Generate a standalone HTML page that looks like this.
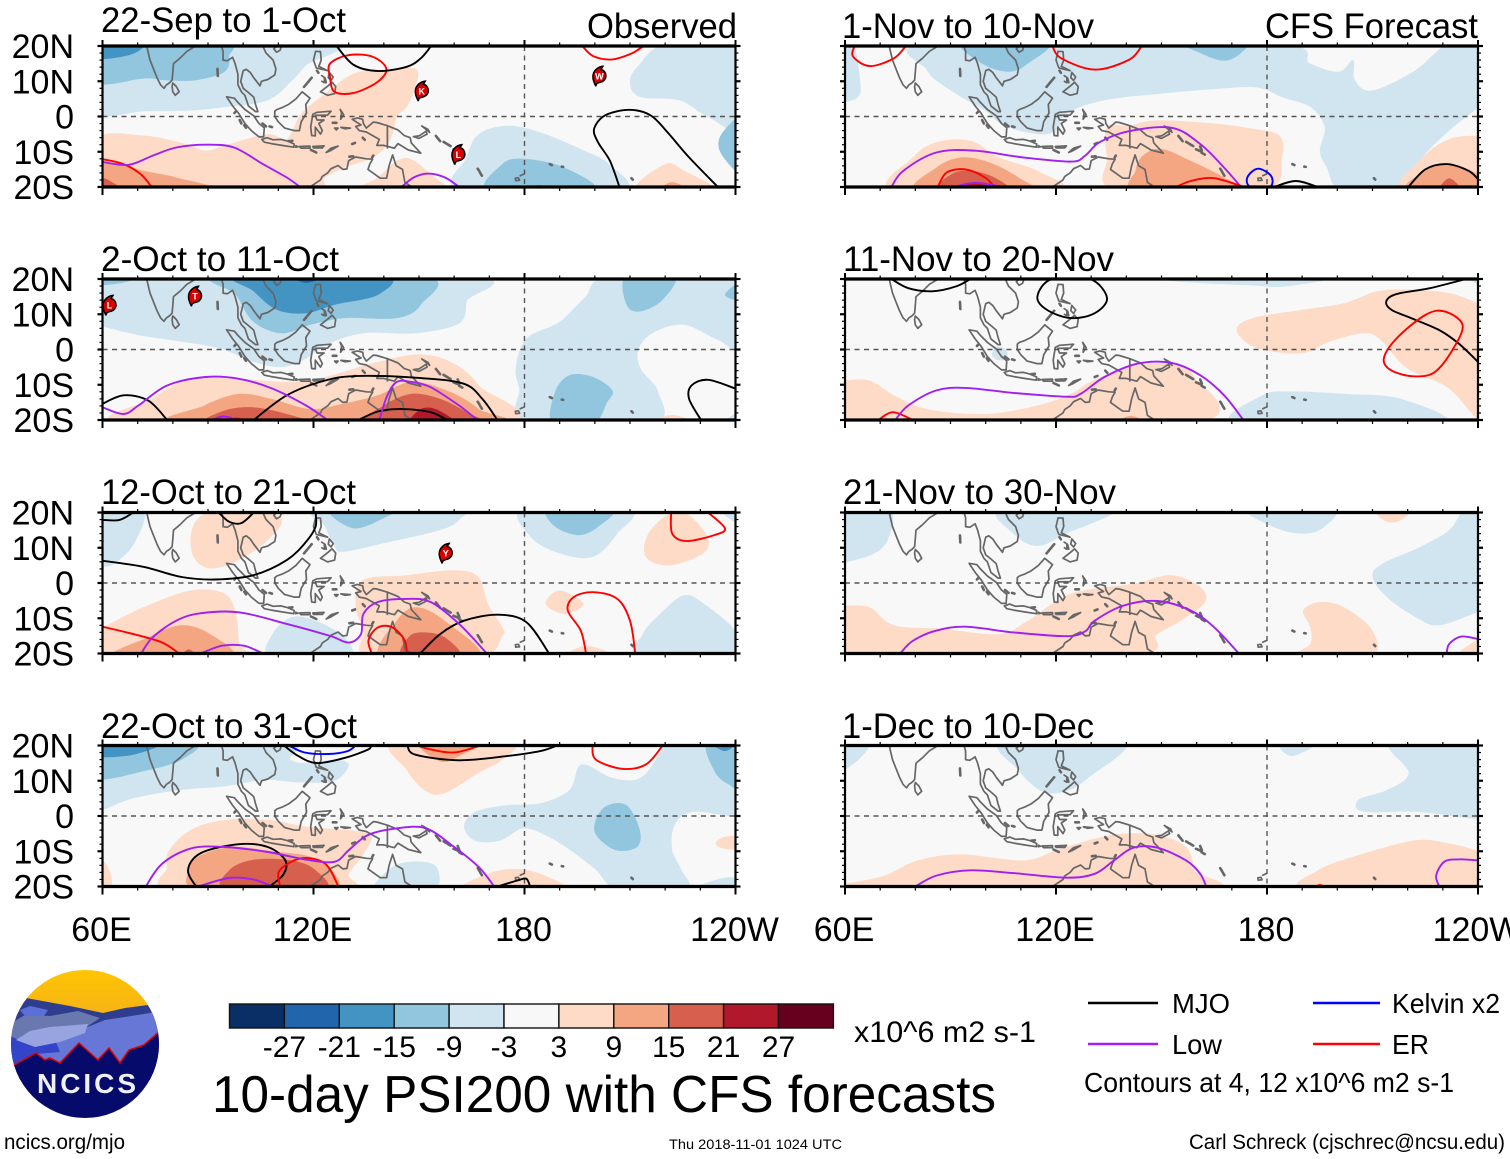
<!DOCTYPE html>
<html lang="en">
<head>
<meta charset="utf-8">
<title>10-day PSI200 with CFS forecasts</title>
<style>
html,body{margin:0;padding:0;background:#fff;width:1510px;height:1159px;overflow:hidden}
svg{display:block}
text{font-family:"Liberation Sans",sans-serif;fill:#000}
</style>
</head>
<body>
<svg id="chart" xmlns="http://www.w3.org/2000/svg" width="1510" height="1159" viewBox="0 0 1510 1159">
  <defs>
    <linearGradient id="logoSky" x1="0" y1="0" x2="0" y2="1">
      <stop offset="0" stop-color="#ffc600"/>
      <stop offset="1" stop-color="#f5b21a"/>
    </linearGradient>
  </defs>
  <rect width="1510" height="1159" fill="#fff"/>
  <g id="panels"></g>

  <text x="101" y="32" font-size="35" textLength="245" lengthAdjust="spacingAndGlyphs">22-Sep to 1-Oct</text>
  <text x="587" y="38" font-size="35" textLength="150" lengthAdjust="spacingAndGlyphs">Observed</text>
  <text x="842" y="38" font-size="35" textLength="252" lengthAdjust="spacingAndGlyphs">1-Nov to 10-Nov</text>
  <text x="1265" y="38" font-size="35" textLength="213" lengthAdjust="spacingAndGlyphs">CFS Forecast</text>
  <text x="101" y="271" font-size="35" textLength="238" lengthAdjust="spacingAndGlyphs">2-Oct to 11-Oct</text>
  <text x="843" y="271" font-size="35" textLength="271" lengthAdjust="spacingAndGlyphs">11-Nov to 20-Nov</text>
  <text x="101" y="504" font-size="35" textLength="255" lengthAdjust="spacingAndGlyphs">12-Oct to 21-Oct</text>
  <text x="843" y="504" font-size="35" textLength="273" lengthAdjust="spacingAndGlyphs">21-Nov to 30-Nov</text>
  <text x="101" y="738" font-size="35" textLength="256" lengthAdjust="spacingAndGlyphs">22-Oct to 31-Oct</text>
  <text x="842" y="738" font-size="35" textLength="252" lengthAdjust="spacingAndGlyphs">1-Dec to 10-Dec</text>

  <g id="colorbar"></g>
  <text x="854" y="1042" font-size="30" textLength="182" lengthAdjust="spacingAndGlyphs">x10^6 m2 s-1</text>
  <text x="212" y="1112" font-size="52" textLength="784" lengthAdjust="spacingAndGlyphs">10-day PSI200 with CFS forecasts</text>

  <g>
    <line x1="1088" x2="1158" y1="1003" y2="1003" stroke="#000" stroke-width="2.4"/>
    <text x="1172" y="1013" font-size="28" textLength="58" lengthAdjust="spacingAndGlyphs">MJO</text>
    <line x1="1313" x2="1380" y1="1003" y2="1003" stroke="#0000ff" stroke-width="2.4"/>
    <text x="1392" y="1013" font-size="28" textLength="108" lengthAdjust="spacingAndGlyphs">Kelvin x2</text>
    <line x1="1088" x2="1158" y1="1044" y2="1044" stroke="#a020f0" stroke-width="2.4"/>
    <text x="1172" y="1054" font-size="28" textLength="50" lengthAdjust="spacingAndGlyphs">Low</text>
    <line x1="1313" x2="1380" y1="1044" y2="1044" stroke="#ff0000" stroke-width="2.4"/>
    <text x="1392" y="1054" font-size="28" textLength="37" lengthAdjust="spacingAndGlyphs">ER</text>
    <text x="1084" y="1092" font-size="28" textLength="370" lengthAdjust="spacingAndGlyphs">Contours at 4, 12 x10^6 m2 s-1</text>
  </g>

  <g>
    <clipPath id="logoClip"><ellipse cx="85" cy="1044" rx="74" ry="74"/></clipPath>
    <g clip-path="url(#logoClip)">
      <rect x="10" y="968" width="152" height="50" fill="url(#logoSky)"/>
      <polygon fill="#2f3d8f" points="8,1000 26,998 48,1002 70,1006 103,1013 125,1008 148,1005 162,1010 162,1080 8,1080"/>
      <polygon fill="#6a78b0" points="8,1025 25,1015 50,1016 78,1011 100,1018 82,1030 60,1045 8,1045"/>
      <polygon fill="#5a70d8" points="20,1010 30,1006 48,1010 44,1016 25,1016"/>
      <polygon fill="#6677d6" points="85,1028 105,1020 125,1017 156,1012 162,1030 158,1034 144,1047 120,1065 60,1065 12,1067 12,1055 50,1040"/>
      <polygon fill="#3344c8" points="8,1035 30,1045 55,1040 60,1052 36,1054 14,1067 8,1067"/>
      <polygon fill="#98a4e0" points="16,1040 30,1031 50,1027 88,1024 85,1033 60,1042 35,1047"/>
      <polygon fill="#060a6a" stroke="#e00000" stroke-width="1.5" points="10,1066 14,1065 36,1053 45,1060 50,1058 60,1063 79,1043 98,1060 109,1048 120,1063 129,1050 144,1045 160,1031 162,1125 10,1125"/>
    </g>
    <text x="37" y="1093" font-size="28" font-weight="bold" style="fill:#eef0f6" textLength="99" lengthAdjust="spacing">NCICS</text>
  </g>

  <text x="4" y="1149" font-size="21" textLength="121" lengthAdjust="spacingAndGlyphs">ncics.org/mjo</text>
  <text x="669" y="1149" font-size="14" textLength="173" lengthAdjust="spacingAndGlyphs">Thu 2018-11-01 1024 UTC</text>
  <text x="1189" y="1149" font-size="21" textLength="316" lengthAdjust="spacingAndGlyphs">Carl Schreck (cjschrec@ncsu.edu)</text>
</svg>

<script>
/* ---------- axis values ---------- */
const latTicks = [20, 10, 0, -10, -20];
const latTickLabels = ['20N', '10N', '0', '10S', '20S'];
const lonTicks = [60, 120, 180, 240];
const lonTickLabels = ['60E', '120E', '180', '120W'];

/* ---------- colour scale ---------- */
const binEdges = [-27, -21, -15, -9, -3, 3, 9, 15, 21, 27];
const binColors = ['#0a2f66', '#2166ac', '#4393c3', '#92c5de', '#d1e5f0', '#f8f8f8', '#fddbc7', '#f4a582', '#d6604d', '#b2182b', '#67001f'];

/* ---------- contour colours ---------- */
const waveColors = { MJO: '#000000', Low: '#a020f0', Kelvin: '#0000ff', ER: '#ff0000' };

/* ---------- coastlines (lon,lat) ---------- */
const coastlines = [
  [71,21, 72.5,20.5, 72.8,19, 73.5,16, 74.5,13.5, 75.5,11, 76.5,9, 77.5,8, 78.2,9, 79,9.5, 79.8,10.3, 80,12.5, 80.2,15, 82,16.5, 84,18.5, 86.5,20, 87,21.5],
  [80,9.5, 81,8.5, 81.8,7, 80.7,6, 80,7, 79.8,8.5, 80,9.5],
  [92.7,13.5, 92.8,11.5],
  [93.5,21, 94.3,18.5, 94.3,16, 95.5,15.8, 97,16.8, 97.7,15, 98.5,12, 98.5,9, 99.5,7, 100.5,6, 101.5,3, 103.5,1.4, 104.2,1.4, 103.5,3.5, 103,5.5, 101.5,6.8, 100,8, 99.3,10, 100,13, 100.9,13.4, 102,12.5, 103,11, 104.8,8.7, 105.2,10, 107,10.5, 109,11.8, 109.3,13.5, 108.5,16, 106.5,18, 105.8,19.5, 106.5,21],
  [108.7,19.2, 109.5,20, 110.9,20, 110.5,18.8, 109.5,18.2, 108.7,19.2],
  [95.3,5.6, 97.5,5.2, 98.5,4, 100.5,2, 103,0.2, 104.5,-2, 106,-3.2, 105.8,-5.8, 104.5,-5.8, 102.3,-4, 100.5,-2, 98.8,0.8, 97,3, 95.3,5.6],
  [97.5,1, 98,1.5],[99,-1, 99.5,-2],[100.3,-2.5, 100.8,-3.2],[105.5,-2, 106.5,-2.8],[107.5,-2.8, 108.2,-3],
  [105.3,-6.5, 106.8,-6, 108.5,-6.6, 110.8,-6.5, 112.7,-7, 114.5,-7.8, 114.4,-8.7, 111,-8.2, 108,-7.7, 106,-7.3, 105.3,-6.5],
  [113,-7, 114,-6.9],
  [115,-8.3, 115.6,-8.6, 114.9,-8.7, 115,-8.3],[116,-8.5, 119,-8.4, 119,-9, 116.5,-9, 116,-8.5],
  [119.8,-8.5, 123,-8.3, 122.5,-8.9, 120,-8.9, 119.8,-8.5],[119.3,-9.5, 120.8,-10.2],[123.6,-10.2, 125,-9, 127,-8.4, 125,-9.6, 123.6,-10.2],
  [109,1.5, 109.6,2, 111,2.5, 113,3.5, 115,5, 116.8,7, 119,5.2, 117.8,3.4, 118,1, 116.5,-1.5, 116,-4, 114.5,-4, 111.8,-3.3, 110,-1.5, 109,0, 109,1.5],
  [119.8,0.6, 121,1.2, 125,1.5, 124,0.4, 120.5,0.3, 121,-1, 123,-1, 121.5,-2, 122.5,-4, 122,-5, 120.5,-3, 120.5,-5.5, 119.5,-5.4, 119.2,-3, 119.8,0.6],
  [120.6,18.5, 122,18.4, 122.2,16, 121.5,14.2, 124,13, 120.8,13.8, 120,16, 120.6,18.5],
  [122,7, 124,6, 126,6.5, 126.3,8.5, 125.3,9.7, 124,8.6, 122,7],
  [117.3,8.4, 119.5,11],[124.5,12.5, 125.6,11.2, 125,10.2, 124.2,11, 124.5,12.5],[122.3,11.6, 123.2,11, 123,9.6, 122.4,10],[123.2,10.8, 123.5,9.7],[121,13, 121.4,12.4],
  [127.6,2, 128,1, 127.7,-0.8, 128.6,0.5, 127.6,2],[125.5,-1.8, 126.5,-1.8],[126,-3.3, 127,-3.3, 126.5,-3.8, 126,-3.3],[127.8,-3.1, 130.5,-3.3, 129,-3.5, 127.8,-3.1],[134,-6, 134.6,-6.6],[131,-7.8, 131.8,-7.5],
  [131,-0.8, 132.5,-0.4, 134,-0.8, 134.2,-2, 135,-3.3, 137,-1.6, 138,-1.7, 141,-2.6, 144,-3.8, 145.8,-5.4, 147.5,-6, 147.8,-7.5, 150.5,-10.4, 147,-9.5, 144,-7.7, 143,-9, 140,-8.2, 138,-8.2, 138.7,-6.5, 135,-4.4, 133,-4, 132,-2.8, 133.5,-2.4, 131,-0.8],
  [148.4,-5.7, 150,-5.5, 152,-4.2, 152.3,-5, 150,-6.2, 148.4,-5.7],[150.8,-2.7, 153,-4.5, 152.6,-3.7, 150.8,-2.7],
  [154.8,-5.5, 156,-7],[157,-7.2, 159,-8.4],[159.8,-9.3, 161,-9.8],[161,-8.5, 161.5,-9.7],[161.4,-10.3, 162.3,-10.8],
  [166.7,-14.8, 167.2,-15.6],[167.4,-16, 167.9,-16.8],
  [177.4,-17.5, 178.3,-17.4, 178.6,-18.1, 177.5,-18.2, 177.4,-17.5],[178.8,-16.8, 179.9,-16.3, 179.2,-16.6],
  [187.2,-13.5, 187.8,-13.8],[190.6,-14.2, 191,-14.3],[210.4,-17.5, 210.8,-17.9],
  [114,-22, 117,-20.6, 119,-20, 122,-18, 122.5,-17, 124,-16, 125,-14.8, 127,-13.9, 128.3,-15, 129.5,-14.9, 130,-12.5, 132,-11.5, 135,-12, 136.8,-12.1, 136,-13.5, 135.5,-15, 139,-17.5, 140.8,-17.5, 141.5,-14, 142.5,-10.9, 143.5,-14, 145.3,-15, 146,-18.7, 148,-20, 149,-21.5],
  [130.2,-11.4, 131.3,-11.3],[136.7,-11.6, 137,-11.1],
  [120.5,21, 121.5,21]
];
/* land border drawn at the coastline weight */
const landBorders = [
  [141,-2.6, 141,-9.1]
];

/* ---------- 22-Sep to 1-Oct ---------- */
const sep22Fills = [
 [-6,[58,1.5, 72,1.5, 85,1.7, 95,2.7, 107,4.6, 114,10.3, 118,14.6, 125,21, 58,21]],
 [-12,[58,9.6, 72,10.8, 78,10.3, 86.5,10.3, 94.7,12.7, 96,17, 94,21, 58,21]],
 [-18,[58,16.5, 67.5,17.4, 72,20, 72,22, 58,22]],
 [-6,[221,21, 212,14, 210,9.3, 213,5.5, 224,4.6, 232,0, 242,-3, 244,21]],
 [-12,[243,0, 236,-5, 236,-10.7, 243,-16.5]],
 [-6,[162,-21, 163.5,-11.6, 167,-5, 175,-2.6, 184.5,-4.5, 197,-9.7, 204,-13.5, 207,-21]],
 [-12,[170,-21, 173.7,-13.5, 179.8,-12, 191.4,-14.5, 199.5,-21]],
 [-18,[178,-21, 184,-19.5, 190,-21]],
 [6,[58,-6.4, 71.6,-5.4, 83.8,-7.8, 89.3,-9.7, 96,-7.8, 107,-5, 112.4,-6.4, 116.5,0.8, 123.3,6.5, 131.5,12.2, 139.6,13.1, 149,13.6, 149,8.4, 146.5,2.7, 143.7,-0.2, 141.7,-6.9, 137,-11.6, 128.7,-14.5, 123.3,-17.3, 116.5,-21, 58,-22]],
 [6,[133.5,-21, 138.3,-17.3, 143.7,-12.6, 147.8,-12.1, 153.3,-16.4, 156.7,-21]],
 [6,[211.8,-21, 220,-13.5, 225.4,-15.4, 233.6,-21]],
 [12,[58,-13.5, 65,-13.5, 71.6,-15.4, 81,-17.3, 92,-21, 58,-22]],
 [12,[218.6,-21, 222,-18.6, 226.8,-21]],
 [18,[58,-17, 60,-17.3, 63,-18.8, 65.4,-21, 58,-22]]
];
const sep22Lines = [
 ['ER',true,[124.7,15, 129.9,17.4, 136.7,17, 140.7,13.6, 138.2,9.8, 131.5,6.7, 126,7, 124.7,11.2]],
 ['MJO',false,[125,22, 126.7,19.8, 131.5,14.6, 138.3,12.9, 146.5,14.1, 150.5,16.5, 153.3,19.8, 155,22]],
 ['ER',false,[196.6,19.8, 199.6,17.1, 205,16.2, 210.5,17.9, 213.8,20]],
 ['MJO',false,[207,-20, 204.3,-12.6, 200.9,-7.3, 199.8,-3.5, 202.9,0.3, 209.8,1.9, 215.9,0.3, 220.7,-4.5, 226.8,-11.6, 235,-20]],
 ['ER',false,[60,-12.1, 66,-13.5, 70.9,-16.4, 74,-20]],
 ['Low',false,[60,-12.9, 67.5,-13.7, 74.3,-11.1, 81,-8.8, 89.3,-8, 97.4,-8.8, 105.6,-13.5, 112.4,-17.3, 116.2,-20]],
 ['Low',false,[145,-20, 148.5,-17.3, 152.6,-16.2, 157.4,-17.3, 161.4,-20]]
];
const sep22Cyclones = [['K',150.8,7.2],['L',161.2,-10.8],['W',201.3,11.4]];

/* ---------- 2-Oct to 11-Oct ---------- */
const oct2Fills = [
 [-6,[58,6.5, 60,6.5, 70,4.1, 82.5,2.2, 93.4,0.3, 102.9,-3.5, 111,-5, 117.9,-2.6, 123.3,1.2, 134.2,4.6, 149.2,4.6, 161.4,7.4, 163.5,13.6, 163.5,21, 58,21]],
 [-12,[93.4,21, 98,15.5, 102.9,7.9, 111,4.6, 119.2,7, 128.8,8.9, 143.7,8.9, 150.5,12.7, 151.2,21]],
 [-12,[58,18.5, 66,19, 72,21.5, 58,22]],
 [-18,[98.8,21, 103,16.5, 109.7,11.2, 117.9,10.3, 126,12.7, 138.3,15.5, 139.6,21]],
 [-24,[113.8,21, 117.9,18.9, 123.3,21]],
 [-6,[205,21, 197,14.6, 190,7.9, 180.5,3.1, 177.5,-5.4, 178.5,-11.1, 180.5,-21, 216.5,-21, 218,-12, 213,-5.4, 212.5,0.3, 217,5, 225.4,7, 235,2.7, 243,0, 244,21]],
 [-6,[243,-17, 238,-19.5, 238,-22, 243,-22]],
 [-12,[209,21, 209,12.7, 213,10.8, 219.3,14.1, 222.7,21]],
 [-12,[188,-21, 188.7,-12, 192.8,-7.3, 199.5,-7.8, 205,-11.6, 203.5,-15, 199.5,-21]],
 [-12,[243,20, 237,15.5, 243,14]],
 [6,[68,-21, 74,-14, 85,-8.3, 98.8,-8.3, 112.4,-9.2, 123.3,-7.8, 138.3,-3.5, 150.5,-1.4, 160,-4, 167,-10.2, 172.3,-21]],
 [6,[216,-21, 222,-18.5, 228,-21]],
 [12,[83,-21, 89,-15.9, 98.8,-12.6, 108,-14, 119,-16.9, 128,-15.5, 138.3,-13, 147.9,-9.2, 158.8,-12, 167,-16.9, 169.6,-21]],
 [18,[90,-21, 94.7,-17.3, 102.9,-16.4, 112.4,-18.3, 118,-21]],
 [18,[135.6,-21, 140,-15.9, 147.8,-12.6, 156,-14, 163.5,-17.8, 167,-21]],
 [24,[147.8,-21, 150.5,-16.9, 155,-17, 160,-21]]
];
const oct2Lines = [
 ['MJO',false,[60,-15.4, 66,-13, 73,-14.5, 78.4,-20]],
 ['MJO',false,[103,-20, 112.4,-13, 123.3,-8.8, 133,-7.5, 150.5,-8.1, 162.7,-9.7, 168,-14, 172.3,-20]],
 ['MJO',false,[132.8,-20, 138.3,-17.6, 145,-16.9, 153.3,-17.8, 158,-20]],
 ['MJO',false,[230.2,-20, 226.8,-14, 227.5,-10.2, 232.2,-8.6, 240,-11.1]],
 ['Low',false,[60,-16.4, 66,-18.3, 70.2,-15.9, 78.4,-10.2, 89.3,-7.8, 98.8,-8.3, 108.3,-11.1, 117.9,-15.9, 124,-20]],
 ['Low',false,[138.7,-20, 141,-13, 143.7,-9.2, 147.8,-9.2, 153.3,-10.7, 161.4,-15.9, 166.6,-20]],
 ['ER',false,[92,-21, 98,-19.6, 103,-21]],
 ['Low',false,[90,-20.5, 94.5,-19, 99.5,-20.5]]
];
const oct2Cyclones = [['L',62,12.5],['T',86.3,15.1]];

/* ---------- 12-Oct to 21-Oct ---------- */
const oct12Fills = [
 [-6,[58,4.6, 60,4.6, 63.4,5.5, 69,11.2, 71.6,21, 58,21]],
 [-6,[121.3,21, 123.3,16, 126,10.3, 128.8,8.9, 139.6,11.2, 156,15, 161.4,17.9, 160,21]],
 [-6,[179.8,21, 181.8,13, 190,8.4, 199.5,7.4, 206.4,14, 209.8,21]],
 [-6,[235.6,21, 240,17, 243,16, 243,21]],
 [-12,[124.7,21, 131.5,15.5, 141,18.9, 143.7,21]],
 [-12,[187,21, 188.7,16, 195.5,13.6, 201,16, 205,21]],
 [-6,[108,-21, 108.3,-14.5, 113.8,-9.7, 120.6,-10.7, 128.8,-15.4, 129.5,-21]],
 [-6,[213,-21, 213.6,-14.5, 218.5,-8.8, 225.4,-3.5, 231,-5.9, 240,-13.5, 244,-22]],
 [6,[87.8,18.9, 94.7,21, 104,21, 111,17.9, 107,12.2, 98.8,6.5, 90.6,4.1, 85.9,7.4, 85.2,14]],
 [6,[214.5,7.4, 215.2,14, 221.3,19.8, 226.7,19.3, 232,13, 230.8,8.4, 221.3,5]],
 [6,[58,-12.6, 60,-12.6, 71.6,-6.9, 85.2,-2.1, 94.7,-3, 98,-8.8, 98.8,-17.3, 99.5,-21, 58,-22]],
 [6,[134,0.8, 146.5,2.2, 160,3.6, 166.9,1.7, 169.6,-5.9, 173.7,-12.6, 173.7,-15, 167,-21, 135.6,-21, 134.3,-13.5, 132,-6.9]],
 [6,[186,-5.9, 190,-2.1, 196.8,-5.9, 191.4,-8.8]],
 [6,[191.7,-21, 197.8,-17.8, 205.6,-21]],
 [12,[63.4,-21, 73,-15.4, 82.4,-12, 90.6,-14.5, 96,-21]],
 [12,[139.4,-21, 143.7,-10.7, 149.2,-6.9, 157.3,-10.7, 167,-21]],
 [18,[82.5,-21, 84.5,-18.8, 87,-21]],
 [18,[145.5,-21, 147,-15.4, 151,-14, 157.3,-15.4, 161.4,-21]]
];
const oct12Lines = [
 ['MJO',false,[60,17.9, 64.8,17.9, 68.8,20]],
 ['MJO',false,[93,20, 96,17.4, 99.5,17, 103,20]],
 ['MJO',false,[60,6.3, 71.6,4.6, 82.5,1.7, 92,1, 102.9,2.2, 112.4,6.5, 117.9,11.7, 120.6,16, 120.6,20]],
 ['MJO',false,[150.3,-20, 156,-14.5, 162.8,-10.7, 172.4,-9, 180.5,-11.1, 187,-20]],
 ['ER',false,[60,-12.4, 68.8,-14.5, 77,-16.9, 81.8,-20]],
 ['ER',false,[137,-21, 135.6,-16.4, 138.3,-12.6, 142.4,-12.6, 146,-16.4, 146.5,-21]],
 ['ER',false,[197.5,-20, 196,-13.5, 192.3,-7.8, 194,-4, 199.5,-2.6, 206.4,-4.5, 210,-10.7, 211.5,-20]],
 ['ER',false,[221.7,20, 222,14, 226,11.9, 234,13.6, 237,15.5, 232.2,20]],
 ['Low',false,[71,-20, 74.3,-15.4, 81,-10.7, 87.8,-8.6, 98.8,-8.3, 112.4,-11.6, 124.7,-15, 130,-16.9, 133.5,-14.5, 134.2,-8.8, 138.3,-5.4, 146.5,-4.5, 153.3,-5.4, 161.4,-11.6, 169.3,-20]],
 ['Low',false,[87.9,-20, 94,-17.8, 100.2,-17.8, 105.6,-20]]
];
const oct12Cyclones = [['Y',157.6,8.4]];

/* ---------- 22-Oct to 31-Oct ---------- */
const oct22Fills = [
 [-6,[58,1.7, 60,1.7, 68.8,5, 82.5,7.4, 94.7,8.4, 106,10.2, 116,9.5, 126,10, 130,14.5, 126,16, 119,15, 113.5,16, 111,21, 58,21]],
 [-12,[58,10.8, 71.6,12.7, 82.5,16, 86,21, 58,21]],
 [-18,[58,17, 68.8,17.4, 77,21, 58,21]],
 [-6,[162.8,-3, 166,1.2, 175,3.1, 184.5,3.6, 192.8,7.4, 196.2,14.6, 205,10.8, 213,10.8, 218.6,17.9, 221.4,21, 244,21, 244,1.2, 228,1.2, 222.7,-2.6, 222,-9.7, 224.5,-15, 226,-21, 207,-21, 200,-15, 193,-9.7, 187,-6, 179.8,-3.5, 173,-7, 166,-7]],
 [-6,[229,-21, 233,-18.5, 240,-17.5, 244,-22]],
 [-12,[244,6.5, 238,9, 234,12.7, 232,21, 244,21]],
 [-18,[233,21, 237,18.4, 240,21]],
 [-12,[200,-2, 203,2.7, 209,3.1, 212.8,-4, 212,-8.8, 206,-9.7, 200.7,-5.9]],
 [-6,[137.6,-21, 142.4,-14.5, 149.2,-12.9, 155,-14.5, 154,-21]],
 [6,[143,21, 146.5,13, 152,7, 157.3,6.5, 166.9,12.2, 173.7,16, 175.7,21]],
 [12,[150,21, 156,15.5, 161.4,17, 167,21]],
 [6,[58,-12, 60.5,-13, 62.5,-17, 62,-21, 58,-22]],
 [6,[79,-9.7, 85,-4, 94.7,-1.1, 107,-1.1, 118,-3, 135.5,-5, 134.2,-10.7, 130,-16.4, 128.8,-21, 79.7,-21, 78.4,-14.5]],
 [6,[162.8,-21, 169.6,-16.4, 177.8,-15, 186,-17, 190.7,-21]],
 [6,[234.3,-7.8, 237,-5.9, 243,-5.9, 243,-9.3, 237,-9.3]],
 [12,[84.5,-15.4, 88,-11.1, 97.4,-8.8, 109.7,-10.2, 119.2,-11.6, 126,-16.4, 123.5,-21, 87.9,-21]],
 [18,[95.4,-21, 96,-15.4, 102.9,-12.4, 113.8,-12.6, 120.6,-15.4, 122.6,-21]]
];
const oct22Lines = [
 ['Kelvin',false,[113,20, 117.5,18, 124.3,17.6, 129.7,18.4, 132,20]],
 ['MJO',false,[111.6,20, 115.7,17, 121,15, 129,16.5, 135.6,18.9, 136,20]],
 ['MJO',false,[146.7,20, 149,17.4, 161.3,15.8, 175,17, 184.5,18.4, 189.3,20]],
 ['ER',false,[149.4,20, 153.3,18.9, 160,18, 166.9,19.8]],
 ['ER',false,[199.3,20, 200.3,16, 207.7,13.4, 214.5,14.6, 219.3,20]],
 ['MJO',false,[87,-20.5, 84.3,-15.4, 88,-10.5, 98.8,-8, 107,-8.8, 112,-12.6, 111.2,-16.9, 106,-21]],
 ['ER',false,[110.4,-19.5, 110.4,-15.4, 116.5,-12, 123.3,-13.5, 127.1,-20]],
 ['Low',false,[72.3,-20, 77,-13.5, 85.2,-9.2, 94.7,-8.8, 107,-10.2, 118,-12.4, 126,-13, 130,-9.7, 135.5,-5.4, 143.7,-3.5, 152,-3.5, 160,-8.8, 167,-14.5, 171.4,-20]],
 ['Low',false,[87.2,-20, 96,-17.6, 102.9,-18, 108.3,-20]],
 ['MJO',false,[172.3,-20, 178,-18.3, 180.5,-17.8, 181.6,-20]]
];
const oct22Cyclones = [];

/* ---------- 1-Nov to 10-Nov ---------- */
const nov1Fills = [
 [-6,[58,4, 60,4.1, 63.7,5.5, 64.4,9.3, 62.3,21, 58,21]],
 [-6,[85.5,21, 83.4,13, 91.5,6.5, 99.8,1.7, 105.2,-2.6, 114.7,-5, 120.2,-4, 122.9,0.8, 133.8,4.6, 150.1,6.5, 166.5,7.9, 177.4,8.2, 184.2,5.5, 192.3,2.7, 196.4,-3, 195,-9.7, 197,-14.5, 201.2,-21, 217.5,-21, 225,-10.7, 231.8,-4, 243,6.5, 243,21, 232,21, 222,13, 210,7.4, 205,10.3, 204.5,16, 200.4,12.7, 192.3,15, 180,21]],
 [-12,[93.6,21, 99,15, 106.6,12.7, 112,15, 117.5,21]],
 [-12,[156.3,21, 161,18, 167.8,15.8, 172.6,18, 173.3,21]],
 [6,[73.9,-21, 79.3,-11.6, 86,-7.3, 95.7,-6.9, 103.8,-11.6, 114.7,-15.4, 120.2,-21]],
 [12,[80.7,-21, 86,-14.5, 93,-11.6, 101,-13, 109.3,-17.3, 112,-21]],
 [18,[86.8,-21, 90.2,-16.4, 95.7,-15.4, 102.5,-17.3, 105.9,-21]],
 [24,[91.6,-21, 97,-18.8, 103.8,-21]],
 [6,[134.5,-3, 134.5,-11.6, 137.2,-21, 178.7,-21, 184.2,-11.6, 183.5,-5.4, 176,-3.5, 165,-2, 148.8,-1.1, 140.6,-2.6]],
 [12,[142.8,-21, 142.6,-15.4, 144.7,-11.1, 150,-9.2, 158.3,-12.6, 167.8,-17.3, 172,-21]],
 [6,[218.2,-21, 224.3,-11.6, 231.8,-6.4, 240,-5.4, 244,-5.4, 244,-22]],
 [12,[220.2,-21, 225,-15.4, 231.8,-13.5, 240,-16.4, 244,-22]],
 [18,[229,-21, 231.8,-17.5, 235.2,-21]]
];
const nov1Lines = [
 ['ER',false,[62.7,20, 62.3,17, 67,14.3, 73.9,16.5, 77.3,20]],
 ['ER',false,[119,20, 121.5,16.5, 131,13.3, 140.6,16, 144.4,20]],
 ['Low',false,[73.2,-20, 76.6,-15.4, 86,-10.2, 97,-9.7, 110.6,-11.6, 124.3,-12.8, 128.3,-11.1, 132.4,-7.3, 140.6,-4.2, 152.9,-3.2, 161,-7.8, 167.8,-14.5, 172.6,-20]],
 ['ER',false,[86.4,-20, 88.9,-15.9, 94.3,-15, 99.8,-17.3, 102.5,-20]],
 ['Low',false,[91,-20, 97,-18.8, 105,-20]],
 ['ER',false,[154.2,-20, 158.3,-18.3, 165,-17.5, 173.3,-20]],
 ['Kelvin',true,[174.4,-17.3, 177.4,-14.8, 181.2,-16.9, 180.8,-20, 175.3,-20]],
 ['MJO',false,[182,-20, 188.2,-18.3, 194.4,-20]],
 ['MJO',false,[220.2,-20, 225,-15, 231.1,-13.5, 237.3,-15.4, 240,-17.8]]
];
const nov1Cyclones = [];

/* ---------- 11-Nov to 20-Nov ---------- */
const nov11Fills = [
 [6,[58,-8.8, 60,-8.8, 67,-8.8, 73.9,-13, 83.4,-16.9, 99.8,-18.3, 114.7,-15.9, 124.3,-12.6, 129.7,-9.2, 140.6,-5, 152.9,-4, 159,-7.3, 159,-21, 58,-22]],
 [12,[137.2,-21, 141.3,-18.8, 145.4,-21]],
 [6,[172,7, 177.4,9.3, 189.6,11.2, 201.8,13.1, 211.4,16.5, 221,17, 231.8,16, 240,13.1, 244,11, 244,-22, 240,-20, 231.8,-11.1, 223.6,-7.3, 218.2,-4, 212,3, 207.3,4.6, 197.8,2.2, 189.6,-1.1, 177.4,0.3, 172,4]],
 [-6,[101.8,-1.6, 103,0.8, 105.9,-0.2, 105.9,-2.6, 103.5,-3]],
 [-6,[172,-21, 178.7,-13, 186.9,-11.9, 201.9,-12.6, 218.2,-14, 229,-21]],
 [-6,[144.7,21, 154.2,19.3, 174.6,18.2, 185.5,17.9, 197.8,21]],
 [-6,[237,21, 240,18.5, 243,19, 243,21]]
];
const nov11Lines = [
 ['MJO',false,[73.2,20, 78,17.4, 84.8,16.5, 91.6,17.9, 95.7,20]],
 ['MJO',true,[114.7,15, 118.8,20, 129.7,20, 134.5,14.6, 131,10.3, 124.3,8.9, 117.5,11.2]],
 ['MJO',false,[240,-3.5, 234.5,1.7, 229,5.5, 221,8.9, 215.5,11.2, 213.9,13.6, 216.7,15.7, 226.3,17.4, 236.6,20]],
 ['ER',true,[213.2,-2.6, 216.8,3.1, 225,9.8, 230.5,10.8, 235.6,7, 233,0.3, 227.7,-6.4, 221.6,-7.6, 215.3,-5.9]],
 ['ER',false,[69.5,-20, 73.6,-17.8, 79.3,-20]],
 ['Low',false,[74.3,-20, 78,-15.9, 86,-11.6, 94.3,-10.9, 107.9,-12.3, 122.9,-13.4, 127,-12.6, 133.8,-7.8, 143.3,-4, 152.9,-3.8, 161,-7.3, 167.8,-13, 173.3,-20]]
];
const nov11Cyclones = [];

/* ---------- 21-Nov to 30-Nov ---------- */
const nov21Fills = [
 [-6,[58,5.8, 60,5.8, 68.4,8.4, 72.5,13, 72.5,21, 58,21]],
 [-6,[104.5,21, 107.9,14, 114.7,10.5, 122.9,14, 136.5,21]],
 [-6,[174.6,21, 182.8,15.5, 191,14, 196.4,16, 198.5,21]],
 [-6,[236.5,21, 231.8,15, 223.7,10.3, 212.8,5.5, 210,1.7, 214.1,-4, 222.3,-9.7, 229,-12, 240,-8.3, 244,-8, 244,21]],
 [6,[210.7,21, 214,17.4, 218.2,17.9, 220.5,21]],
 [6,[58,-6.4, 60,-6.4, 67,-6.9, 73.9,-12, 87.5,-13, 103.8,-14.5, 112,-10.7, 124.3,-3, 142,-0.2, 152.9,2.2, 161,-1.1, 162.4,-5.4, 155.6,-10.7, 148.8,-14.5, 139.9,-21, 58,-22]],
 [6,[188.2,-21, 192.3,-17.3, 192.3,-12.6, 190.3,-7.8, 195,-5.4, 201.9,-6.9, 210,-13.5, 209.4,-21]],
 [6,[233.9,-21, 240,-15.9, 244,-14, 244,-22]]
];
const nov21Lines = [
 ['Low',false,[75.7,-20, 79.3,-16.4, 86,-13.5, 94.3,-12.4, 107.9,-14, 122.9,-15.1, 128.3,-13.7, 131,-10.7, 139.2,-6.4, 148.8,-5.1, 158.3,-7.8, 165,-12.6, 172,-20]],
 ['Low',false,[231.1,-20, 231.8,-17.3, 235.2,-15.2, 240,-15.9]]
];
const nov21Cyclones = [];

/* ---------- 1-Dec to 10-Dec ---------- */
const dec1Fills = [
 [-6,[58,12, 60,13.1, 64.4,16.5, 67,21, 58,21]],
 [-6,[105,21, 109.3,13, 116,7, 122.9,7, 129.7,11.2, 139.2,21]],
 [-6,[183.5,21, 187,17, 194.4,21]],
 [-6,[215.5,21, 220.3,12.2, 214.2,7.4, 206,4.6, 207.4,1.2, 222.3,1.2, 240,-1, 244,-1, 244,21]],
 [6,[58,-19.2, 60,-19.2, 71.2,-16.9, 80.7,-12.6, 93,-10.9, 110.6,-12.6, 120.2,-9.7, 131,-6.4, 139.2,-5, 148.8,-5.4, 157,-8.8, 159.4,-15.4, 160,-21, 58,-22]],
 [6,[192,-21, 194.5,-15.4, 206,-11.1, 222.3,-6.9, 231.8,-7.8, 240,-9.7, 244,-10, 244,-22]]
];
const dec1Lines = [
 ['Low',false,[80,-20, 86,-16.9, 95.7,-15.4, 107.9,-16.2, 122.9,-17.5, 131,-16.4, 136.5,-12.6, 142,-9, 148.8,-9, 157,-12.6, 161,-16.4, 162.7,-20]],
 ['Low',false,[229,-20, 228.1,-16.9, 230.4,-13, 234.5,-12.3, 240,-12.6]],
 ['ER',false,[193,-20.5, 195,-19.6, 197.5,-20.5]]
];
const dec1Cyclones = [];

/* ---------- panel wiring ---------- */
const panelNames = ['sep22','oct2','oct12','oct22','nov1','nov11','nov21','dec1'];
const panelFills = [sep22Fills,oct2Fills,oct12Fills,oct22Fills,nov1Fills,nov11Fills,nov21Fills,dec1Fills];
const panelLines = [sep22Lines,oct2Lines,oct12Lines,oct22Lines,nov1Lines,nov11Lines,nov21Lines,dec1Lines];
const panelCyclones = [sep22Cyclones,oct2Cyclones,oct12Cyclones,oct22Cyclones,nov1Cyclones,nov11Cyclones,nov21Cyclones,dec1Cyclones];

const NS = 'http://www.w3.org/2000/svg';
const colLeft = [102.5, 845];
const rowTop = [46, 279, 512.5, 745.5];
const plotW = 633, plotH = 141;

function xScale(col, lon){ return colLeft[col] + (lon - 60) * plotW / 180; }
function yScale(row, lat){ return rowTop[row] + (20 - lat) * plotH / 40; }
function colorOf(v){
  let i = 0;
  while (i < binEdges.length && v > binEdges[i]) i++;
  return binColors[i];
}
function make(tag, parent, props){
  const el = document.createElementNS(NS, tag);
  for (const k in props) el.setAttribute(k, props[k]);
  parent.appendChild(el);
  return el;
}
function toXY(col, row, pts){
  const out = [];
  for (let i = 0; i < pts.length; i += 2) out.push([xScale(col, pts[i]), yScale(row, pts[i + 1])]);
  return out;
}
function smoothPath(p, closed){
  const n = p.length;
  const at = i => closed ? p[(i + n) % n] : p[Math.max(0, Math.min(n - 1, i))];
  let d = 'M' + p[0][0].toFixed(1) + ',' + p[0][1].toFixed(1);
  const segs = closed ? n : n - 1;
  for (let i = 0; i < segs; i++){
    const a = at(i - 1), b = at(i), c = at(i + 1), e = at(i + 2);
    const c1x = b[0] + (c[0] - a[0]) / 6, c1y = b[1] + (c[1] - a[1]) / 6;
    const c2x = c[0] - (e[0] - b[0]) / 6, c2y = c[1] - (e[1] - b[1]) / 6;
    d += 'C' + c1x.toFixed(1) + ',' + c1y.toFixed(1) + ' ' + c2x.toFixed(1) + ',' + c2y.toFixed(1) + ' ' + c[0].toFixed(1) + ',' + c[1].toFixed(1);
  }
  return closed ? d + 'Z' : d;
}

const root = document.getElementById('panels');

panelNames.forEach(function(name, idx){
  const col = idx < 4 ? 0 : 1;
  const row = idx % 4;
  const left = xScale(col, 60), right = xScale(col, 240);
  const top = yScale(row, 20), bottom = yScale(row, -20);

  const panel = make('g', root, {});
  
  

  const clip = make('clipPath', panel, { id: 'clip-' + name });
  make('rect', clip, { x: left, y: top, width: right - left, height: bottom - top });

  const body = make('g', panel, { 'clip-path': 'url(#clip-' + name + ')' });
  const bg = make('rect', body, { x: left, y: top, width: right - left, height: bottom - top, fill: binColors[5] });
  
  

  panelFills[idx].forEach(function(f){
    const path = make('path', body, { d: smoothPath(toXY(col, row, f[1]), true), fill: colorOf(f[0]) });
    
    
  });

  coastlines.forEach(function(c){
    const isIslet = c.length <= 4;
    const pl = make('polyline', body, { points: toXY(col, row, c).map(q => q[0].toFixed(1) + ',' + q[1].toFixed(1)).join(' '), fill: 'none', stroke: '#666', 'stroke-width': isIslet ? 2.6 : 1.7, 'stroke-linejoin': 'round', 'stroke-linecap': 'round' });
    
    
  });
  landBorders.forEach(function(c){
    const pl = make('polyline', body, { points: toXY(col, row, c).map(q => q[0].toFixed(1) + ',' + q[1].toFixed(1)).join(' '), fill: 'none', stroke: '#666', 'stroke-width': 1.7 });
    
    
  });

  const eq = make('line', body, { x1: left, x2: right, y1: yScale(row, 0), y2: yScale(row, 0), stroke: '#555', 'stroke-width': 1.4, 'stroke-dasharray': '5 4.5' });
  
  
  const dl = make('line', body, { x1: xScale(col, 180), x2: xScale(col, 180), y1: top, y2: bottom, stroke: '#555', 'stroke-width': 1.4, 'stroke-dasharray': '5 4.5' });
  
  

  panelLines[idx].forEach(function(l){
    const path = make('path', body, { d: smoothPath(toXY(col, row, l[2]), l[1]), fill: 'none', stroke: waveColors[l[0]], 'stroke-width': 1.9 });
    
    
  });

  panelCyclones[idx].forEach(function(c){
    const g = make('g', panel, { transform: 'translate(' + xScale(col, c[1]).toFixed(1) + ',' + yScale(row, c[2]).toFixed(1) + ')' });
    
    
    make('path', g, { d: 'M3.5,-10C-1,-9.5 -6.5,-6 -6.5,0.5C-6.5,4.5 -4.5,8 -3.5,10C-3.5,8 -2,6.5 0,6.2C4,5.5 6.5,3 6.5,-0.5C6.5,-3.5 4.5,-6.5 1.5,-6.8C2,-8 3,-9 3.5,-10Z', fill: '#d80000', stroke: '#000', 'stroke-width': 1.5 });
    const t = make('text', g, { x: 0, y: 3.2, 'font-size': 9, 'font-weight': 'bold', 'text-anchor': 'middle', style: 'fill:#fff' });
    t.textContent = c[0];
  });

  const frame = make('rect', panel, { x: left, y: top, width: right - left, height: bottom - top, fill: 'none', stroke: '#000', 'stroke-width': 2.2 });
  
  
  const topEdge = make('line', panel, { x1: left - 1, x2: right + 1, y1: top, y2: top, stroke: '#000', 'stroke-width': 3.2 });
  
  
  const bottomEdge = make('line', panel, { x1: left - 1, x2: right + 1, y1: bottom, y2: bottom, stroke: '#000', 'stroke-width': 3.2 });
  
  

  const ticks = make('g', panel, { stroke: '#000' });
  
  
  for (let lon = 60; lon <= 240; lon += 10){
    const x = xScale(col, lon), major = lonTicks.indexOf(lon) >= 0;
    make('line', ticks, { x1: x, x2: x, y1: top - (major ? 6 : 3.5), y2: top, 'stroke-width': major ? 2 : 1.2 });
    make('line', ticks, { x1: x, x2: x, y1: bottom, y2: bottom + (major ? 8 : 4), 'stroke-width': major ? 2 : 1.2 });
  }
  for (let lat = -20; lat <= 20; lat += 2){
    const y = yScale(row, lat), major = latTicks.indexOf(lat) >= 0;
    make('line', ticks, { x1: left - (major ? 5 : 3), x2: left, y1: y, y2: y, 'stroke-width': major ? 2.2 : 1.2 });
    make('line', ticks, { x1: right, x2: right + (major ? 5 : 3), y1: y, y2: y, 'stroke-width': major ? 2.2 : 1.2 });
  }

  if (col === 0){
    latTicks.forEach(function(lat, i){
      const t = make('text', panel, { x: 74, y: yScale(row, lat) + 12, 'font-size': 34, 'text-anchor': 'end' });
      
      
      t.textContent = latTickLabels[i];
    });
  }
  if (row === 3){
    lonTicks.forEach(function(lon, i){
      const t = make('text', panel, { x: xScale(col, lon) - 1, y: 941, 'font-size': 34, 'text-anchor': 'middle' });
      
      
      t.textContent = lonTickLabels[i];
    });
  }
});

/* ---------- colour bar ---------- */
const barGroup = document.getElementById('colorbar');
const barLeft = 229.5, barCell = 54.9, barTop = 1004, barH = 24;
binColors.forEach(function(c, i){
  const cell = make('rect', barGroup, { x: barLeft + i * barCell, y: barTop, width: barCell, height: barH, fill: c, stroke: '#111', 'stroke-width': 1.4 });
  
  
});
binEdges.forEach(function(v, i){
  const t = make('text', barGroup, { x: barLeft + (i + 1) * barCell, y: 1057, 'font-size': 30, 'text-anchor': 'middle' });
  
  
  t.textContent = String(v);
});
</script>
</body>
</html>
